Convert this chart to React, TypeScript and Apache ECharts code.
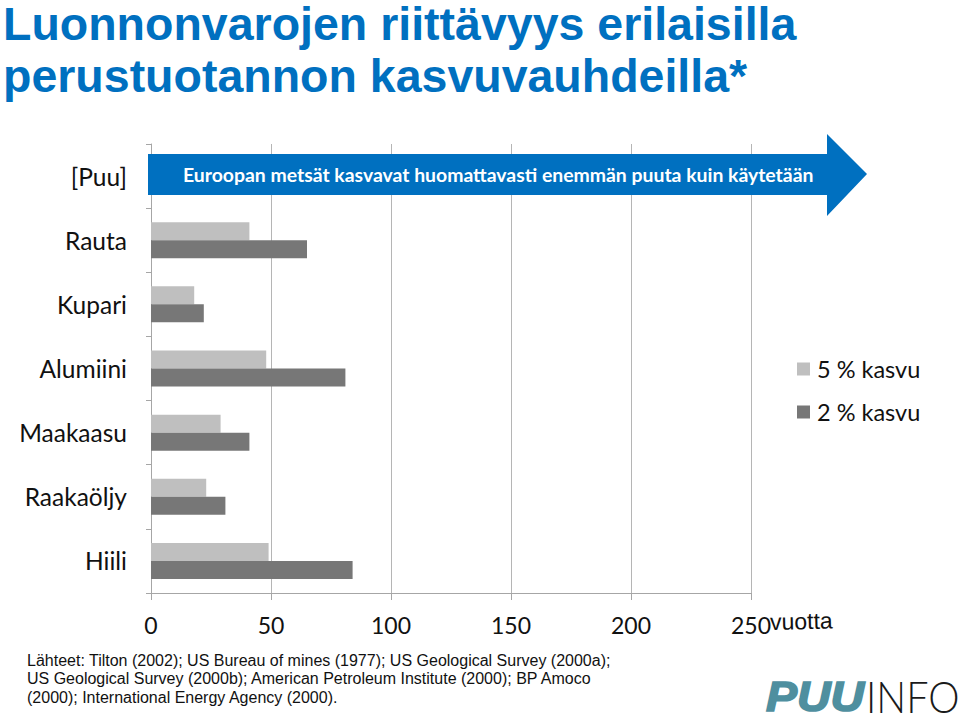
import React, { useEffect, useRef } from "react";
import * as echarts from "echarts";

const categories = ["[Puu]", "Rauta", "Kupari", "Alumiini", "Maakaasu", "Raakaöljy", "Hiili"];
const growth5 = [null, 41, 18, 48, 29, 23, 49];
const growth2 = [null, 65, 22, 81, 41, 31, 84];
const xTicks = { min: 0, max: 250, interval: 50 };
const seriesNames = ["5 % kasvu", "2 % kasvu"];
const titleLines = ["Luonnonvarojen riittävyys erilaisilla", "perustuotannon kasvuvauhdeilla*"];
const arrowText = "Euroopan metsät kasvavat huomattavasti enemmän puuta kuin käytetään";
const sourceLines = [
  "Lähteet: Tilton (2002); US Bureau of mines (1977); US Geological Survey (2000a);",
  "US Geological Survey (2000b); American Petroleum Institute (2000); BP Amoco",
  "(2000); International Energy Agency (2000).",
];

const BLUE = "#0070c0";
const LIGHT = "#bfbfbf";
const DARK = "#777777";
const LABEL_FONT = "Lato, 'Open Sans', sans-serif";
const ARIAL = "'Liberation Sans', Arial, sans-serif";

export default function App() {
  const ref = useRef<HTMLDivElement>(null);
  useEffect(() => {
    if (!ref.current) return;
    const chart = echarts.init(ref.current, undefined, { renderer: "svg" });
    chart.setOption({
      animation: false,
      backgroundColor: "#ffffff",
      grid: { left: 151, right: 209, top: 144, bottom: 126, containLabel: false },
      legend: {
        orient: "vertical",
        left: 797,
        top: 357,
        padding: 0,
        itemWidth: 13,
        itemHeight: 13,
        itemGap: 19,
        icon: "rect",
        textStyle: { fontSize: 23.5, lineHeight: 23, color: "#111", fontFamily: LABEL_FONT, padding: [0, 0, 0, 2] },
        data: seriesNames,
      },
      xAxis: {
        type: "value",
        min: xTicks.min,
        max: xTicks.max,
        interval: xTicks.interval,
        axisLine: { show: true, lineStyle: { color: "#a6a6a6", width: 1 } },
        axisTick: { show: true, length: 7, lineStyle: { color: "#a6a6a6" } },
        splitLine: { show: true, lineStyle: { color: "#b5b5b5", width: 1 } },
        axisLabel: { fontSize: 23, color: "#111", fontFamily: LABEL_FONT, margin: 20 },
      },
      yAxis: {
        type: "category",
        inverse: true,
        data: categories,
        axisLine: { show: true, lineStyle: { color: "#a6a6a6", width: 1 } },
        axisTick: { show: true, length: 5, lineStyle: { color: "#a6a6a6" } },
        axisLabel: { fontSize: 24.5, color: "#111", fontFamily: LABEL_FONT, margin: 24 },
        splitLine: { show: false },
      },
      series: [
        {
          name: seriesNames[0],
          type: "bar",
          data: growth5,
          barWidth: 18,
          barGap: "0%",
          itemStyle: { color: LIGHT },
        },
        {
          name: seriesNames[1],
          type: "bar",
          data: growth2,
          barWidth: 18,
          barGap: "0%",
          itemStyle: { color: DARK },
        },
      ],
      graphic: [
        {
          type: "text",
          x: 3,
          y: 23.5,
          style: { text: titleLines[0], fontSize: 46.5, fontWeight: "bold", fontFamily: ARIAL, fill: BLUE, verticalAlign: "middle" },
        },
        {
          type: "text",
          x: 3,
          y: 75.5,
          style: { text: titleLines[1], fontSize: 46.5, fontWeight: "bold", fontFamily: ARIAL, fill: BLUE, verticalAlign: "middle" },
        },
        {
          type: "polygon",
          z: 10,
          shape: {
            points: [
              [148, 154], [827, 154], [827, 134], [867, 174], [827, 216], [827, 195], [148, 195],
            ],
          },
          style: { fill: BLUE },
        },
        {
          type: "text",
          z: 11,
          x: 183,
          y: 174,
          style: { text: arrowText, fontSize: 19.4, fontWeight: "bold", fontFamily: LABEL_FONT, fill: "#ffffff", verticalAlign: "middle" },
        },
        {
          type: "text",
          x: 770,
          y: 622,
          rotation: 0.025,
          style: { text: "vuotta", fontSize: 23, fontFamily: ARIAL, fill: "#111", verticalAlign: "middle" },
        },
        ...sourceLines.map((t, i) => ({
          type: "text",
          x: 27,
          y: 660 + i * 18.5,
          style: { text: t, fontSize: 16, fontFamily: ARIAL, fill: "#111", verticalAlign: "middle" },
        })),
        {
          type: "text",
          x: 766,
          y: 696,
          scaleX: 1.08,
          style: {
            text: "PUU",
            fontSize: 43,
            fontWeight: 900,
            fontStyle: "italic",
            fontFamily: ARIAL,
            fill: "#4f8f9f",
            stroke: "#4f8f9f",
            lineWidth: 1.6,
            verticalAlign: "middle",
          },
        },
        {
          type: "text",
          x: 866,
          y: 696,
          scaleX: 0.92,
          style: { text: "INFO", fontSize: 43, fontWeight: 300, fontFamily: LABEL_FONT, fill: "#1a1a1a", verticalAlign: "middle" },
        },
      ],
    });
    return () => chart.dispose();
  }, []);
  return <div ref={ref} style={{ position: "fixed", left: 0, top: 0, width: 960, height: 719 }} />;
}
